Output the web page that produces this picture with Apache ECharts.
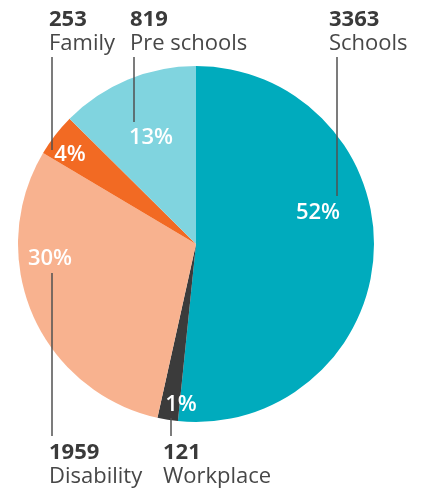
<!DOCTYPE html>
<html>
<head>
<meta charset="utf-8">
<script src="https://cdn.jsdelivr.net/npm/echarts@6/dist/echarts.min.js"></script>
<style>
  html, body { margin: 0; padding: 0; background: #fff; }
  #chart { width: 422px; height: 493px; }
</style>
</head>
<body>
<div id="chart"></div>
<script>
// data (clockwise from 12 o'clock)
const names = ['Schools', 'Workplace', 'Disability', 'Family', 'Pre schools']
const counts = [3363, 121, 1959, 253, 819]
const pctLabels = ['52%', '1%', '30%', '4%', '13%']
const colors = ['#00abbd', '#3b3b3b', '#f8b28f', '#f26a23', '#80d4df']

// where the percent labels sit (centre of text)
const pctPos = [[318, 213], [181, 405], [50, 259], [70, 155], [151, 138]]
// outside labels: top-left of text, line x, line from y1 to y2
const outPos = [
  { x: 329, y: 8, lx: 337, y1: 57, y2: 196 },
  { x: 163, y: 441, lx: 171, y1: 418, y2: 436 },
  { x: 49, y: 441, lx: 52, y1: 273, y2: 436 },
  { x: 49, y: 8, lx: 52, y1: 57, y2: 150 },
  { x: 130, y: 8, lx: 134, y1: 57, y2: 122 }
]

const chart = echarts.init(document.getElementById('chart'))
const font = '"Open Sans", sans-serif'

const pieData = names.map((n, i) => ({
  name: n,
  value: counts[i],
  itemStyle: { color: colors[i] }
}))

const base = {
  type: 'pie',
  center: [196, 244],
  radius: [0, 178],
  startAngle: 90,
  clockwise: true,
  animation: false,
  avoidLabelOverlap: false,
  emphasis: { disabled: true },
  silent: true
}

chart.setOption({
  series: [
    {
      ...base,
      data: pieData,
      label: {
        show: true,
        position: 'inside',
        formatter: p => pctLabels[p.dataIndex],
        color: '#fff',
        fontFamily: font,
        fontWeight: 600,
        fontSize: 22
      },
      labelLine: { show: false },
      labelLayout: p => ({
        x: pctPos[p.dataIndex][0],
        y: pctPos[p.dataIndex][1],
        align: 'center',
        verticalAlign: 'middle'
      })
    },
    {
      ...base,
      z: 3,
      data: names.map((n, i) => ({
        name: n,
        value: counts[i],
        itemStyle: { color: 'rgba(0,0,0,0)' }
      })),
      label: {
        show: true,
        position: 'outside',
        overflow: 'none',
        width: 200,
        formatter: p => '{v|' + p.value + '}\n{n|' + p.name + '}',
        rich: {
          v: { fontFamily: font, fontWeight: 700, fontSize: 22, lineHeight: 24, color: '#3a3a3a' },
          n: { fontFamily: font, fontWeight: 400, fontSize: 22, lineHeight: 24, color: '#474747' }
        }
      },
      labelLine: {
        show: true,
        lineStyle: { color: '#505050', width: 1.5 }
      },
      labelLayout: p => {
        const o = outPos[p.dataIndex]
        return {
          x: o.x,
          y: o.y,
          align: 'left',
          verticalAlign: 'top',
          hideOverlap: false,
          labelLinePoints: [[o.lx, o.y1], [o.lx, o.y2], [o.lx, o.y2]]
        }
      }
    }
  ]
})
</script>
</body>
</html>
